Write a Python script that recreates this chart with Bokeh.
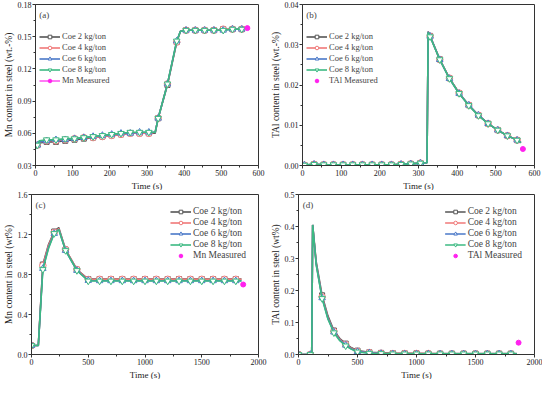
from bokeh.plotting import figure
from bokeh.layouts import column, row
from bokeh.models import FixedTicker, NumeralTickFormatter, Range1d, Legend, LegendItem, Label, Title
from bokeh.embed import file_html
from bokeh.resources import INLINE

# ---------------- data ----------------
series_names = ["Coe 2 kg/ton", "Coe 4 kg/ton", "Coe 6 kg/ton", "Coe 8 kg/ton"]

# panel (a) Mn, short run
ta = [0, 5, 10, 30, 55, 80, 105, 130, 155, 180, 205, 230, 255, 280, 305, 322,
      330, 355, 380, 390, 405, 430, 455, 480, 505, 530, 555, 560]
a_coe2 = [0.046, 0.049, 0.051, 0.052, 0.052, 0.053, 0.054, 0.055, 0.056, 0.057, 0.058, 0.059, 0.060, 0.060, 0.060, 0.060,
          0.074, 0.105, 0.145, 0.155, 0.156, 0.156, 0.156, 0.156, 0.157, 0.157, 0.157, 0.157]
a_coe4 = [0.046, 0.049, 0.052, 0.053, 0.053, 0.054, 0.055, 0.056, 0.056, 0.057, 0.058, 0.059, 0.060, 0.060, 0.060, 0.061,
          0.074, 0.106, 0.145, 0.155, 0.156, 0.156, 0.156, 0.156, 0.157, 0.157, 0.157, 0.157]
a_coe6 = [0.046, 0.049, 0.052, 0.053, 0.054, 0.054, 0.055, 0.056, 0.057, 0.058, 0.059, 0.060, 0.060, 0.061, 0.061, 0.061,
          0.074, 0.106, 0.146, 0.155, 0.156, 0.156, 0.156, 0.156, 0.156, 0.157, 0.157, 0.157]
a_coe8 = [0.046, 0.049, 0.053, 0.054, 0.054, 0.055, 0.055, 0.056, 0.057, 0.058, 0.059, 0.060, 0.061, 0.061, 0.061, 0.061,
          0.074, 0.106, 0.146, 0.155, 0.156, 0.156, 0.156, 0.156, 0.156, 0.157, 0.157, 0.157]
a_meas_t = [570]
a_meas = [0.158]

# panel (b) TAl, short run
tb = [0, 5, 30, 55, 80, 105, 130, 155, 180, 205, 230, 255, 280, 305, 322, 325,
      330, 355, 380, 405, 430, 455, 480, 505, 530, 555, 565]
b_coe2 = [0.0002, 0.0001, 0.0003, 0.0002, 0.0002, 0.0002, 0.0002, 0.0002, 0.0002, 0.0002, 0.0002, 0.0003, 0.0004, 0.0006, 0.0007, 0.0333,
          0.0322, 0.0264, 0.0217, 0.0180, 0.0150, 0.0125, 0.0104, 0.0088, 0.0074, 0.0063, 0.0057]
b_coe4 = [0.0002, 0.0001, 0.0003, 0.0002, 0.0002, 0.0002, 0.0002, 0.0002, 0.0002, 0.0002, 0.0002, 0.0003, 0.0004, 0.0006, 0.0007, 0.0332,
          0.0321, 0.0263, 0.0217, 0.0180, 0.0150, 0.0125, 0.0104, 0.0088, 0.0074, 0.0063, 0.0057]
b_coe6 = [0.0002, 0.0001, 0.0003, 0.0002, 0.0002, 0.0002, 0.0002, 0.0002, 0.0002, 0.0002, 0.0002, 0.0003, 0.0004, 0.0006, 0.0007, 0.0332,
          0.0321, 0.0263, 0.0216, 0.0179, 0.0150, 0.0125, 0.0104, 0.0088, 0.0074, 0.0063, 0.0057]
b_coe8 = [0.0002, 0.0001, 0.0003, 0.0002, 0.0002, 0.0002, 0.0002, 0.0002, 0.0002, 0.0002, 0.0002, 0.0003, 0.0004, 0.0006, 0.0007, 0.0331,
          0.0320, 0.0263, 0.0216, 0.0179, 0.0149, 0.0124, 0.0104, 0.0088, 0.0074, 0.0063, 0.0057]
b_meas_t = [570]
b_meas = [0.0041]

# panel (c) Mn, long run
tc = [0, 60, 100, 150, 200, 240, 300, 400, 500, 600, 700, 800, 900, 1000, 1100, 1200,
      1300, 1400, 1500, 1600, 1700, 1800, 1850]
c_coe2 = [0.09, 0.09, 0.90, 1.10, 1.23, 1.27, 1.05, 0.85, 0.755, 0.755, 0.755, 0.755, 0.755, 0.755, 0.755, 0.755,
          0.755, 0.755, 0.755, 0.755, 0.755, 0.755, 0.755]
c_coe4 = [0.09, 0.09, 0.89, 1.09, 1.22, 1.26, 1.05, 0.85, 0.750, 0.752, 0.752, 0.752, 0.752, 0.752, 0.752, 0.752,
          0.752, 0.752, 0.752, 0.752, 0.752, 0.752, 0.752]
c_coe6 = [0.09, 0.09, 0.86, 1.07, 1.21, 1.25, 1.04, 0.84, 0.740, 0.737, 0.737, 0.737, 0.737, 0.737, 0.737, 0.737,
          0.737, 0.737, 0.737, 0.737, 0.737, 0.737, 0.737]
c_coe8 = [0.09, 0.09, 0.85, 1.06, 1.21, 1.25, 1.04, 0.84, 0.735, 0.735, 0.735, 0.735, 0.735, 0.735, 0.735, 0.735,
          0.735, 0.735, 0.735, 0.735, 0.735, 0.735, 0.735]
c_meas_t = [1865]
c_meas = [0.70]

# panel (d) TAl, long run
td = [0, 100, 112, 120, 150, 200, 250, 300, 350, 400, 450, 500, 600, 700, 800, 900, 1000, 1100, 1200,
      1300, 1400, 1500, 1600, 1700, 1800, 1850]
d_coe2 = [0.0, 0.0, 0.0, 0.405, 0.29, 0.185, 0.120, 0.075, 0.050, 0.034, 0.021, 0.012, 0.007, 0.005, 0.004, 0.004, 0.004, 0.003, 0.003,
          0.003, 0.003, 0.003, 0.003, 0.003, 0.003, 0.003]
d_coe4 = [0.0, 0.0, 0.0, 0.405, 0.285, 0.180, 0.115, 0.072, 0.047, 0.031, 0.019, 0.010, 0.006, 0.004, 0.003, 0.003, 0.003, 0.003, 0.002,
          0.002, 0.002, 0.002, 0.002, 0.002, 0.002, 0.002]
d_coe6 = [0.0, 0.0, 0.0, 0.405, 0.282, 0.177, 0.112, 0.070, 0.045, 0.029, 0.017, 0.009, 0.005, 0.003, 0.002, 0.002, 0.002, 0.002, 0.002,
          0.002, 0.002, 0.002, 0.002, 0.002, 0.002, 0.002]
d_coe8 = [0.0, 0.0, 0.0, 0.405, 0.280, 0.175, 0.110, 0.068, 0.043, 0.027, 0.016, 0.008, 0.004, 0.003, 0.002, 0.002, 0.002, 0.002, 0.002,
          0.002, 0.002, 0.002, 0.002, 0.002, 0.002, 0.002]
d_meas_t = [1865]
d_meas = [0.037]

# ---------------- style ----------------
COLORS = ["#555555", "#f07878", "#4a78c8", "#3cba82"]
MARKERS = ["square", "circle", "triangle", "inverted_triangle"]
SIZES = [5, 6.5, 6.5, 6.5]
MAGENTA = "#ff22ee"
FONT = "Liberation Serif"

def make_panel(tag, t, series, marker_every, marker_offset, meas_t, meas, meas_label, meas_line,
               xr, yr, xticks, yticks, yfmt, ylabel, w, h, legend_loc, legend_font, label_pos, br):
    p = figure(width=w, height=h, output_backend="svg", toolbar_location=None,
               x_range=Range1d(*xr), y_range=Range1d(*yr),
               min_border_left=0, min_border_right=br, min_border_top=4, min_border_bottom=0)
    p.background_fill_color = "white"
    p.border_fill_color = "white"
    p.outline_line_color = "#333333"
    p.outline_line_width = 1
    p.grid.visible = False

    items = []
    for name, vals, col, mk, sz in zip(series_names, series, COLORS, MARKERS, SIZES):
        r1 = p.line(t, vals, line_color=col, line_width=1.6)
        mt = [tt for tt in t if (tt - marker_offset) % marker_every == 0]
        mv = [v for tt, v in zip(t, vals) if (tt - marker_offset) % marker_every == 0]
        r2 = p.scatter(mt, mv, marker=mk, size=sz, line_color=col, fill_color="white", line_width=1)
        items.append(LegendItem(label=name, renderers=[r1, r2]))
    rs = []
    if meas_line:
        rs.append(p.line(meas_t, meas, line_color=MAGENTA, line_width=1.2))
    rs.append(p.scatter(meas_t, meas, marker="circle", size=5, line_color=MAGENTA, fill_color=MAGENTA))
    items.append(LegendItem(label=meas_label, renderers=rs))

    leg = Legend(items=items, location=legend_loc)
    leg.background_fill_alpha = 0
    leg.border_line_alpha = 0
    leg.label_text_font = FONT
    leg.label_text_font_size = legend_font
    leg.label_height = 9
    leg.glyph_height = 9
    leg.glyph_width = 21
    leg.spacing = 1
    leg.padding = 2
    leg.margin = 10
    leg.label_standoff = 2
    p.add_layout(leg, "center")

    p.add_layout(Label(x=label_pos[0], y=label_pos[1], text=tag, text_font=FONT,
                       text_font_size="9px", text_baseline="middle"))

    for ax in (p.xaxis[0], p.yaxis[0]):
        ax.axis_line_color = "#333333"
        ax.major_tick_line_color = "#333333"
        ax.minor_tick_line_color = "#333333"
        ax.major_tick_in = 0
        ax.major_tick_out = 3
        ax.minor_tick_in = 0
        ax.minor_tick_out = 2
        ax.major_label_text_font = FONT
        ax.major_label_text_font_size = "8px"
        ax.major_label_text_color = "#222222"
        ax.axis_label_text_font = FONT
        ax.axis_label_text_font_style = "normal"
        ax.axis_label_text_color = "#222222"
        ax.major_label_standoff = 1
        ax.axis_label_standoff = 1
    xminor = [xticks[0] + (xticks[1] - xticks[0]) * (i + 0.5) for i in range(len(xticks) - 1)]
    yminor = [yticks[0] + (yticks[1] - yticks[0]) * (i + 0.5) for i in range(len(yticks) - 1)]
    p.xaxis[0].ticker = FixedTicker(ticks=xticks, minor_ticks=xminor)
    p.yaxis[0].ticker = FixedTicker(ticks=yticks, minor_ticks=yminor)
    p.yaxis[0].formatter = NumeralTickFormatter(format=yfmt)
    p.add_layout(Title(text="Time (s)", align="center", text_font=FONT, text_font_size="9px",
                       text_font_style="normal", text_color="#222222", standoff=0, offset=0),
                 "below")
    p.yaxis[0].axis_label = ylabel
    p.yaxis[0].axis_label_text_font_size = "9.5px"
    return p

pa = make_panel("(a)", ta, [a_coe2, a_coe4, a_coe6, a_coe8], 25, 5, a_meas_t, a_meas, "Mn Measured", True,
                (0, 600), (0.03, 0.18), [0, 100, 200, 300, 400, 500, 600],
                [0.03, 0.06, 0.09, 0.12, 0.15, 0.18], "0.00", "Mn content in steel (wt.-%)",
                267, 190, (2, 78), "8.5px", (10, 0.170), 9)
pb = make_panel("(b)", tb, [b_coe2, b_coe4, b_coe6, b_coe8], 25, 5, b_meas_t, b_meas, "TAl Measured", False,
                (0, 600), (0.0, 0.04), [0, 100, 200, 300, 400, 500, 600],
                [0.00, 0.01, 0.02, 0.03, 0.04], "0.00", "TAl content in steel (wt.-%)",
                275, 190, (2, 78), "8.5px", (10, 0.0373), 8)
pc = make_panel("(c)", tc, [c_coe2, c_coe4, c_coe6, c_coe8], 100, 0, c_meas_t, c_meas, "Mn Measured", False,
                (0, 2000), (0.0, 1.6), [0, 500, 1000, 1500, 2000],
                [0.0, 0.4, 0.8, 1.2, 1.6], "0.0", "Mn content in steel (wt%)",
                267, 189, "top_right", "9.5px", (35, 1.5), 9)
pd = make_panel("(d)", td, [d_coe2, d_coe4, d_coe6, d_coe8], 100, 0, d_meas_t, d_meas, "TAl Measured", False,
                (0, 2000), (0.0, 0.5), [0, 500, 1000, 1500, 2000],
                [0.0, 0.1, 0.2, 0.3, 0.4, 0.5], "0.0", "TAl content in steel (wt%)",
                275, 189, "top_right", "9.5px", (35, 0.468), 8)

layout = column(row(pa, pb), row(pc, pd))
open("out.html", "w").write(file_html(layout, INLINE))
